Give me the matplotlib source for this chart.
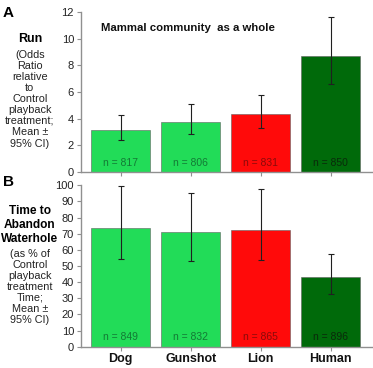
import matplotlib.pyplot as plt
import numpy as np

categories = ["Dog", "Gunshot", "Lion", "Human"]

run_mean = [3.13, 3.77, 4.37, 8.7]
run_hi = [4.25, 5.08, 5.8, 11.6]
run_lo = [2.38, 2.88, 3.27, 6.6]
run_n = [817, 806, 831, 850]

time_mean = [73.6, 70.9, 72.1, 43.0]
time_hi = [99.6, 95.5, 97.6, 57.3]
time_lo = [54.4, 53.1, 53.7, 32.7]
time_n = [849, 832, 865, 896]

bar_colors = ["#22dc58", "#22dc58", "#ff0a0a", "#006a0a"]
n_colors = ["#137a35", "#137a35", "#8a0a0a", "#0a2a0a"]

plt.rcParams["font.family"] = ["Liberation Sans", "DejaVu Sans"]

fig = plt.figure(figsize=(3.73, 3.68), dpi=100)
ax_a = fig.add_axes([0.217, 0.533, 0.78, 0.434])
ax_b = fig.add_axes([0.217, 0.058, 0.78, 0.4385])

x = np.arange(len(categories))


def draw(ax, mean, lo, hi, ns, ymax, step, n_y):
    mean = np.array(mean)
    yerr = [mean - np.array(lo), np.array(hi) - mean]
    ax.bar(x, mean, 0.84, color=bar_colors, edgecolor="#606060", linewidth=0.4,
           zorder=2)
    ax.errorbar(x, mean, yerr=yerr, fmt="none", ecolor="#202020", elinewidth=0.8,
                capsize=2.5, capthick=0.8, zorder=3)
    for xi, n, c in zip(x, ns, n_colors):
        ax.text(xi, n_y, f"n = {n}", ha="center", va="center", fontsize=7.5,
                color=c, zorder=4)
    ax.set_xlim(-0.57, 3.59)
    ax.set_ylim(0, ymax)
    ax.set_yticks(np.arange(0, ymax + 0.01, step))
    for side in ["top", "right"]:
        ax.spines[side].set_visible(False)
    for side in ["left", "bottom"]:
        ax.spines[side].set_color("#909090")
        ax.spines[side].set_linewidth(1.0)
    ax.tick_params(axis="y", labelsize=8, colors="#909090", labelcolor="#222222",
                   length=3, width=0.8, pad=2)
    ax.tick_params(axis="x", colors="#909090", length=3, width=0.8)
    ax.set_xticks(x)


draw(ax_a, run_mean, run_lo, run_hi, run_n, 12, 2, 0.7)
ax_a.set_xticklabels([])
ax_a.text(0.07, 0.9, "Mammal community  as a whole", transform=ax_a.transAxes,
          fontsize=8.2, fontweight="bold", ha="left", va="center", color="#111111")

draw(ax_b, time_mean, time_lo, time_hi, time_n, 100, 10, 6)
ax_b.set_xticklabels(categories, fontsize=9, fontweight="bold", color="#111111")
ax_b.tick_params(axis="x", pad=1.5)

# panel letters and y-axis descriptions
fig.text(0.008, 0.985, "A", fontsize=11, fontweight="bold", va="top")
fig.text(0.008, 0.525, "B", fontsize=11, fontweight="bold", va="top")

fig.text(0.08, 0.894, "Run", fontsize=9, fontweight="bold", ha="center", va="center")
fig.text(0.08, 0.73,
         "(Odds\nRatio\nrelative\nto\nControl\nplayback\ntreatment;\nMean \u00b1\n95% CI)",
         fontsize=7.8, ha="center", va="center", linespacing=1.13, color="#222222")

fig.text(0.08, 0.389, "Time to\nAbandon\nWaterhole", fontsize=8.6, fontweight="bold",
         ha="center", va="center", linespacing=1.2)
fig.text(0.08, 0.221,
         "(as % of\nControl\nplayback\ntreatment\nTime;\nMean \u00b1\n95% CI)",
         fontsize=7.8, ha="center", va="center", linespacing=1.13, color="#222222")

fig.savefig("out.png", dpi=100)
